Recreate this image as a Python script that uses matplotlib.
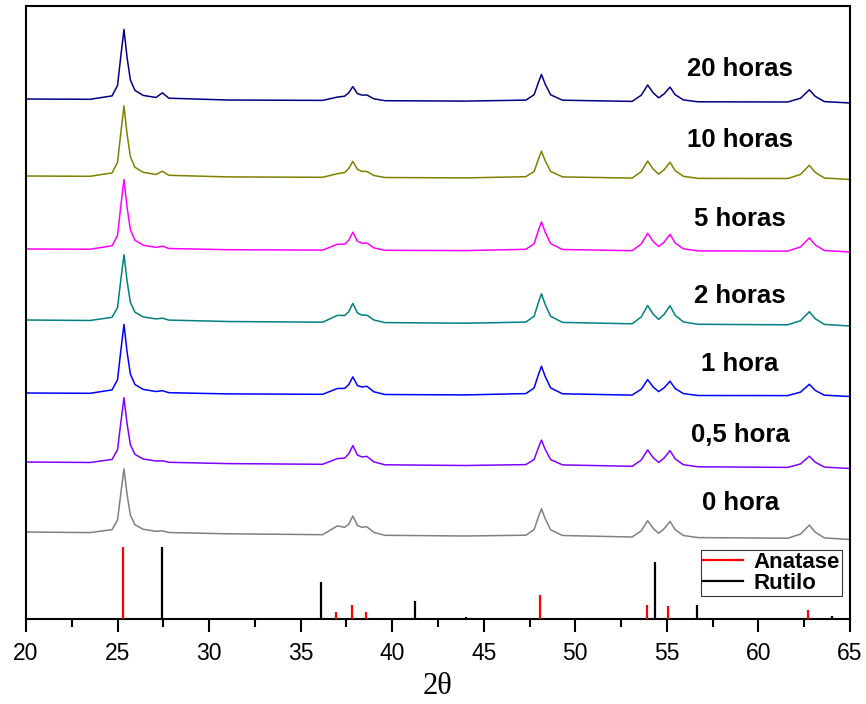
import matplotlib
matplotlib.use("Agg")
import matplotlib.pyplot as plt
from matplotlib.lines import Line2D
from matplotlib.ticker import MultipleLocator

# ---------------- data ----------------
two_theta = [20.0, 23.5, 24.7, 25.0, 25.17, 25.35, 25.52, 25.7, 25.95, 26.4,
             27.1, 27.45, 27.8, 31.0, 36.2, 37.0, 37.4, 37.62, 37.85, 38.1,
             38.35, 38.62, 39.0, 39.6, 44.0, 47.3, 47.75, 47.98, 48.15, 48.35,
             48.65, 49.3, 53.1, 53.6, 53.95, 54.25, 54.55, 54.85, 55.17, 55.45,
             55.9, 56.7, 61.6, 62.3, 62.78, 63.1, 63.6, 65.0]

i_20h = [10.0, 9.7, 13.1, 23.6, 51.5, 79.5, 51.5, 29.1, 18.6, 13.6,
         11.5, 16.2, 10.8, 9.0, 8.6, 11.9, 12.8, 16.1, 22.4, 15.4,
         13.9, 14.0, 10.2, 8.3, 7.9, 8.9, 14.3, 26.4, 34.5, 25.1,
         14.2, 8.8, 7.6, 13.8, 24.0, 16.2, 11.2, 15.1, 21.9, 14.3,
         9.1, 7.2, 7.0, 10.8, 19.2, 12.7, 7.4, 6.0]
i_10h = [10.0, 9.7, 13.1, 23.7, 51.9, 80.1, 51.9, 29.3, 18.7, 13.7,
         11.5, 14.8, 10.7, 9.1, 8.7, 12.3, 13.4, 17.4, 24.6, 16.6,
         14.6, 14.5, 10.5, 8.5, 8.1, 9.3, 14.6, 26.7, 34.8, 25.4,
         14.6, 9.1, 7.9, 14.4, 24.9, 16.9, 11.9, 16.3, 23.8, 15.5,
         9.7, 7.6, 7.5, 11.6, 20.7, 13.6, 8.0, 6.5]
i_5h = [10.0, 9.8, 13.2, 23.7, 51.7, 79.6, 51.6, 29.2, 18.7, 13.8,
        11.6, 12.9, 10.5, 9.3, 8.9, 14.7, 14.9, 18.7, 26.8, 17.8,
        15.8, 16.0, 11.1, 8.7, 8.4, 9.7, 15.4, 28.4, 37.1, 27.0,
        15.4, 9.5, 8.3, 15.0, 25.7, 17.6, 12.5, 16.9, 24.7, 16.1,
        10.2, 8.1, 7.9, 12.1, 21.1, 14.1, 8.5, 7.0]
i_2h = [10.0, 9.5, 12.7, 22.5, 48.9, 75.3, 48.9, 27.7, 17.8, 13.1,
        11.1, 11.8, 9.9, 8.5, 7.8, 14.6, 14.5, 18.1, 26.6, 17.1,
        14.9, 14.8, 10.0, 7.4, 6.8, 7.9, 13.8, 27.3, 36.2, 25.7,
        13.7, 7.6, 6.2, 13.1, 24.5, 15.9, 10.6, 15.7, 24.3, 14.8,
        8.1, 5.7, 5.2, 9.3, 18.3, 11.3, 5.6, 4.0]
i_1h = [10.0, 9.7, 13.1, 23.4, 51.0, 78.6, 51.0, 28.9, 18.5, 13.6,
        11.5, 12.3, 10.3, 9.1, 8.7, 14.5, 14.6, 18.2, 26.1, 17.4,
        16.0, 16.7, 11.2, 8.5, 8.1, 9.4, 15.1, 28.1, 36.8, 26.7,
        15.1, 9.2, 7.9, 13.8, 23.4, 16.0, 11.4, 15.2, 21.8, 14.5,
        9.4, 7.5, 7.4, 10.9, 18.7, 12.6, 7.8, 6.5]
i_05h = [10.0, 9.5, 12.6, 22.3, 48.3, 74.2, 48.2, 27.4, 17.6, 13.0,
         11.0, 11.2, 9.7, 8.4, 7.7, 13.4, 13.9, 18.0, 26.4, 16.9,
         15.1, 15.6, 10.1, 7.2, 6.5, 7.4, 12.5, 24.2, 31.9, 22.8,
         12.4, 7.1, 5.7, 11.9, 22.1, 14.4, 9.5, 14.0, 21.4, 13.2,
         7.3, 5.2, 4.6, 8.1, 15.8, 9.8, 4.9, 3.5]
i_0h = [10.0, 9.4, 12.4, 22.0, 47.5, 73.1, 47.5, 26.9, 17.3, 12.7,
        10.7, 11.1, 9.5, 8.2, 7.3, 16.1, 14.7, 17.6, 26.0, 16.5,
        14.7, 15.2, 9.6, 6.7, 6.0, 6.8, 12.4, 24.9, 33.3, 23.5,
        12.2, 6.5, 5.0, 11.2, 21.3, 13.6, 8.7, 13.2, 20.6, 12.4,
        6.5, 4.4, 3.8, 7.9, 16.9, 9.8, 4.1, 2.5]

series_labels = ["20 horas", "10 horas", "5 horas", "2 horas",
                 "1 hora", "0,5 hora", "0 hora"]
series_values = [i_20h, i_10h, i_5h, i_2h, i_1h, i_05h, i_0h]

# reference patterns (stick positions / relative heights)
anatase_pos = [25.28, 36.95, 37.80, 38.58, 48.05, 53.89, 55.06, 62.70]
anatase_int = [72, 7, 14, 7, 24, 14, 13, 9]
rutilo_pos = [27.45, 36.09, 41.25, 44.05, 54.33, 56.64, 64.04]
rutilo_int = [72, 37, 18, 2, 57, 14, 3]

# ---------------- layout / style ----------------
offsets = [510, 433, 360, 289, 216, 147, 77]
label_y = [550, 479, 400, 323, 255, 184, 116]
label_x = 59.0
colors = ["#000080", "#808000", "#ff00ff", "#008080", "#0000ff", "#8000ff", "#808080"]

plt.rcParams["font.family"] = ["Liberation Sans", "DejaVu Sans"]

fig = plt.figure(figsize=(8.66, 7.04), dpi=100)
ax = fig.add_axes([26 / 866, 1 - 619 / 704, 824 / 866, 613 / 704])

for vals, off, col, lab, ly in zip(series_values, offsets, colors, series_labels, label_y):
    ax.plot(two_theta, [v + off for v in vals], color=col, lw=1.1)
    ax.text(label_x, ly, lab, ha="center", va="center", fontsize=18.5,
            fontweight="bold", color="black")

ax.vlines(anatase_pos, 0, anatase_int, color="red", lw=1.6, zorder=3)
ax.vlines(rutilo_pos, 0, rutilo_int, color="black", lw=1.6, zorder=3)

handles = [Line2D([], [], color="red", lw=1.6), Line2D([], [], color="black", lw=1.6)]
leg = ax.legend(handles, ["Anatase", "Rutilo"], loc="lower left",
                bbox_to_anchor=(0.819, 0.0375), borderaxespad=0,
                prop={"size": 16, "weight": "bold"}, frameon=True, fancybox=False,
                borderpad=0.1, labelspacing=0.0, handlelength=1.8,
                handletextpad=0.45)
leg.get_frame().set_edgecolor("black")
leg.get_frame().set_linewidth(0.8)

ax.set_xlim(20, 65)
ax.set_ylim(0, 613)
ax.set_yticks([])
ax.xaxis.set_major_locator(MultipleLocator(5))
ax.xaxis.set_minor_locator(MultipleLocator(2.5))
ax.tick_params(axis="x", which="major", direction="out", length=9.4, width=1.5,
               labelsize=16.5, pad=7)
ax.tick_params(axis="x", which="minor", direction="out", length=5.8, width=1.5)
for sp in ax.spines.values():
    sp.set_linewidth(1.5)

ax.set_xlabel("2θ", family=["Liberation Serif", "DejaVu Serif"], fontsize=22, labelpad=5)

fig.savefig("out.png", dpi=100)
